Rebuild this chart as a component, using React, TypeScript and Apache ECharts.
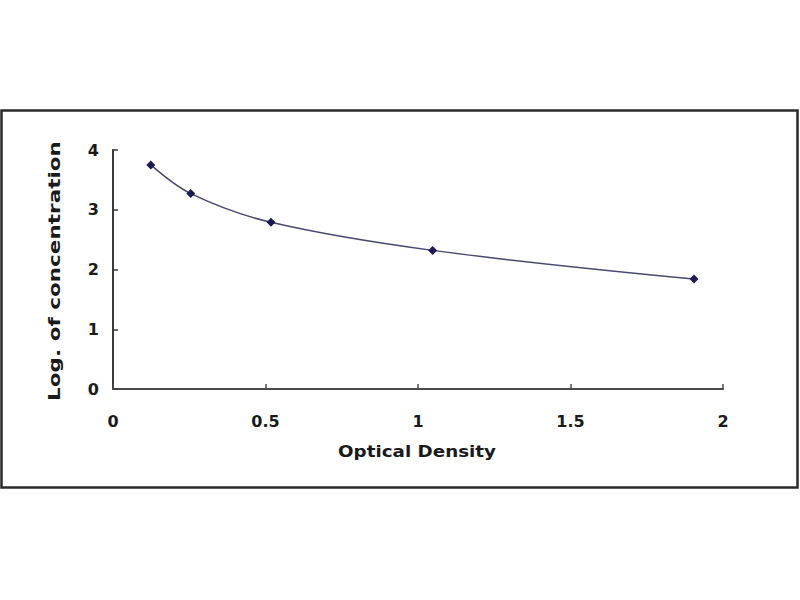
import React, { useEffect, useRef } from "react";
import * as echarts from "echarts";

const opticalDensity = [0.124, 0.255, 0.518, 1.048, 1.905];
const logConcentration = [3.75, 3.27, 2.79, 2.32, 1.84];
const xTitle = "Optical Density";
const yTitle = "Log. of concentration";

const TITLE_FONT = 'bold 16px "DejaVu Sans"';

function measure(text: string, font: string): number {
  const c = document.createElement("canvas");
  const ctx = c.getContext("2d");
  if (!ctx) return text.length * 9;
  ctx.font = font;
  return ctx.measureText(text).width;
}

export default function App() {
  const ref = useRef<HTMLDivElement>(null);

  useEffect(() => {
    if (!ref.current) return;
    const chart = echarts.init(ref.current, null, { renderer: "svg" });
    const data = opticalDensity.map((x, i) => [x, logConcentration[i]]);
    const xScale = 158 / measure(xTitle, TITLE_FONT);
    const yScale = 260 / measure(yTitle, TITLE_FONT);
    const axisLabel = {
      fontFamily: "DejaVu Sans",
      fontWeight: "bold" as const,
      fontSize: 16,
      color: "#1a1a1a",
    };
    chart.setOption({
      animation: false,
      backgroundColor: "#ffffff",
      grid: { left: 113, right: 77, top: 150, bottom: 211, containLabel: false },
      xAxis: {
        type: "value",
        min: 0,
        max: 2,
        interval: 0.5,
        axisLine: { lineStyle: { color: "#4a4a4a", width: 2 } },
        axisTick: { inside: true, length: 5, lineStyle: { color: "#4a4a4a", width: 1.5 } },
        axisLabel: { ...axisLabel, margin: 24 },
        splitLine: { show: false },
      },
      yAxis: {
        type: "value",
        min: 0,
        max: 4,
        interval: 1,
        axisLine: { show: true, lineStyle: { color: "#3a3a3a", width: 2 } },
        axisTick: { show: true, inside: true, length: 5, lineStyle: { color: "#3a3a3a", width: 1.5 } },
        axisLabel: { ...axisLabel, margin: 14 },
        splitLine: { show: false },
      },
      graphic: [
        {
          type: "rect",
          shape: { x: 1.5, y: 110.5, width: 796, height: 377 },
          style: { fill: "none", stroke: "#2a2a2a", lineWidth: 2.5 },
          silent: true,
        },
        {
          type: "text",
          x: 417,
          y: 451,
          scaleX: xScale,
          style: {
            text: xTitle,
            font: TITLE_FONT,
            fill: "#1a1a1a",
            align: "center",
            verticalAlign: "middle",
            textAlign: "center",
            textVerticalAlign: "middle",
          },
        },
        {
          type: "text",
          x: 54,
          y: 271,
          rotation: Math.PI / 2,
          scaleX: yScale,
          style: {
            text: yTitle,
            font: TITLE_FONT,
            fill: "#1a1a1a",
            align: "center",
            verticalAlign: "middle",
            textAlign: "center",
            textVerticalAlign: "middle",
          },
        },
      ],
      series: [
        {
          type: "line",
          data,
          smooth: 0.35,
          symbol: "diamond",
          symbolSize: 9,
          itemStyle: { color: "#1c1c50" },
          lineStyle: { color: "#4a4a70", width: 1.5 },
        },
      ],
    });
    return () => chart.dispose();
  }, []);

  return (
    <div
      ref={ref}
      style={{ position: "fixed", left: 0, top: 0, width: 800, height: 600, background: "#fff" }}
    />
  );
}
